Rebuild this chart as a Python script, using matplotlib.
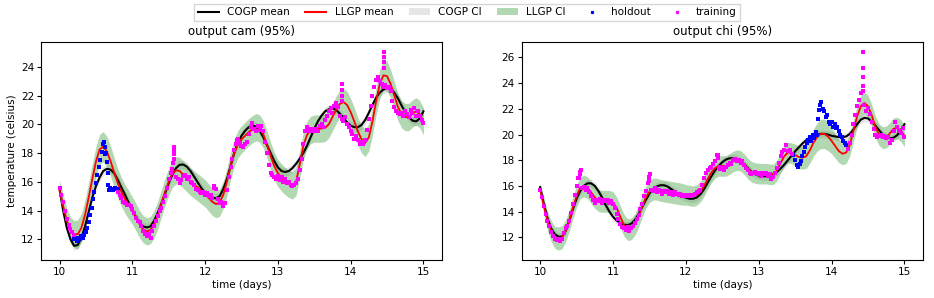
import numpy as np
import matplotlib
matplotlib.use("Agg")
import matplotlib.pyplot as plt

# model means / CI half widths, sampled every 0.05 day from 10 to 15
cogp_cam = [15.5, 14.0, 12.8, 12.0, 11.55, 11.6, 12.1, 12.9, 13.9, 14.9,
            15.7, 16.3, 16.75, 16.9, 16.85, 16.6, 16.15, 15.6, 15.1, 14.55,
            14.0, 13.55, 13.15, 12.9, 12.82, 12.9, 13.3, 13.85, 14.5, 15.2,
            15.9, 16.5, 16.95, 17.18, 17.2, 17.05, 16.75, 16.35, 15.95, 15.55,
            15.25, 15.0, 14.88, 14.85, 15.0, 15.5, 16.2, 17.1, 18.0, 18.7,
            19.2, 19.55, 19.8, 19.9, 19.85, 19.55, 19.1, 18.55, 18.0, 17.45,
            17.0, 16.75, 16.68, 16.75, 16.95, 17.25, 17.6, 18.0, 18.5, 19.1,
            19.7, 20.2, 20.6, 20.9, 21.05, 21.1, 21.0, 20.75, 20.45, 20.15,
            19.9, 19.8, 19.8, 19.95, 20.3, 20.8, 21.35, 21.85, 22.2, 22.42,
            22.5, 22.45, 22.2, 21.8, 21.3, 20.85, 20.5, 20.25, 20.2, 20.4,
            20.9]
llgp_cam = [15.4, 14.3, 13.3, 12.65, 12.35, 12.35, 12.8, 13.7, 14.9, 16.2,
            17.4, 18.25, 18.45, 18.1, 17.45, 16.65, 15.9, 15.3, 14.8, 14.4,
            14.0, 13.55, 13.05, 12.7, 12.55, 12.65, 13.05, 13.7, 14.5, 15.3,
            16.0, 16.55, 16.8, 16.75, 16.5, 16.25, 16.0, 15.8, 15.6, 15.4,
            15.2, 14.9, 14.6, 14.45, 14.55, 15.1, 16.0, 17.1, 18.0, 18.6,
            18.95, 19.2, 19.45, 19.65, 19.8, 19.7, 19.3, 18.6, 17.8, 17.1,
            16.6, 16.3, 16.05, 15.85, 15.75, 16.0, 17.2, 18.5, 19.25, 19.6,
            19.7, 19.7, 19.7, 19.75, 20.0, 20.5, 21.0, 21.4, 21.55, 21.35,
            20.85, 20.2, 19.5, 18.95, 18.7, 19.1, 20.2, 21.6, 22.8, 23.4,
            23.35, 22.8, 22.0, 21.2, 20.7, 20.5, 20.5, 20.75, 20.9, 20.7,
            20.2]
llgp_cam_hw = [0.7, 0.8, 0.85, 0.9, 0.95, 1.0, 1.0, 1.05, 1.05, 1.05,
               1.05, 1.05, 1.05, 1.05, 1.05, 1.05, 1.0, 1.0, 1.0, 1.0,
               0.95, 0.95, 0.95, 0.95, 0.95, 0.95, 0.95, 0.95, 0.95, 0.95,
               0.95, 0.95, 0.95, 0.95, 0.95, 0.95, 0.95, 0.95, 0.95, 0.95,
               0.95, 0.95, 0.95, 0.95, 0.95, 0.95, 0.95, 0.95, 0.95, 0.95,
               0.95, 0.95, 0.95, 0.95, 0.95, 0.95, 0.95, 0.95, 0.95, 0.95,
               0.95, 0.95, 0.95, 0.95, 0.95, 0.95, 0.95, 0.95, 0.95, 0.95,
               0.95, 0.95, 0.95, 0.95, 0.95, 0.95, 0.95, 0.95, 0.95, 0.95,
               0.95, 0.95, 0.95, 0.95, 0.95, 0.95, 0.95, 0.95, 1.0, 1.05,
               1.05, 1.0, 0.95, 0.95, 0.95, 0.95, 0.95, 0.95, 0.95, 0.95,
               0.95]

cogp_chi = [15.9, 14.6, 13.5, 12.7, 12.25, 12.05, 12.05, 12.5, 13.3, 14.2,
            15.0, 15.6, 16.0, 16.2, 16.2, 16.0, 15.6, 15.1, 14.5, 14.0,
            13.6, 13.3, 13.1, 12.98, 12.95, 13.05, 13.35, 13.8, 14.35, 14.9,
            15.4, 15.75, 15.95, 16.05, 16.05, 15.95, 15.75, 15.55, 15.35, 15.2,
            15.08, 15.0, 15.0, 15.1, 15.35, 15.75, 16.25, 16.75, 17.2, 17.55,
            17.85, 18.05, 18.15, 18.15, 18.1, 17.95, 17.7, 17.4, 17.1, 16.9,
            16.8, 16.75, 16.75, 16.8, 16.9, 17.1, 17.35, 17.65, 18.0, 18.35,
            18.7, 19.0, 19.3, 19.55, 19.75, 19.9, 20.0, 20.05, 20.05, 20.0,
            19.9, 19.85, 19.8, 19.8, 19.85, 20.05, 20.4, 20.8, 21.15, 21.3,
            21.25, 21.0, 20.7, 20.35, 20.0, 19.8, 19.7, 19.75, 19.95, 20.35,
            20.8]
llgp_chi = [15.7, 14.5, 13.3, 12.5, 12.0, 11.9, 12.0, 12.5, 13.3, 14.3,
            15.2, 15.85, 16.0, 15.85, 15.5, 15.1, 14.85, 14.8, 14.8, 14.8,
            14.7, 14.3, 13.6, 12.95, 12.6, 12.65, 13.0, 13.6, 14.4, 15.1,
            15.55, 15.75, 15.75, 15.65, 15.6, 15.55, 15.5, 15.45, 15.4, 15.35,
            15.3, 15.25, 15.2, 15.3, 15.55, 16.0, 16.55, 17.05, 17.4, 17.55,
            17.55, 17.55, 17.7, 17.9, 18.0, 17.95, 17.7, 17.35, 17.1, 17.0,
            16.95, 16.95, 16.95, 16.9, 16.9, 17.2, 17.8, 18.3, 18.6, 18.55,
            18.4, 18.25, 18.2, 18.3, 18.75, 19.35, 19.8, 20.05, 20.05, 19.85,
            19.5, 19.1, 18.7, 18.5, 18.6, 19.2, 20.3, 21.4, 22.2, 22.45,
            22.2, 21.5, 20.6, 20.0, 19.75, 19.8, 20.1, 20.45, 20.5, 20.3,
            19.9]
llgp_chi_hw = [0.55, 0.65, 0.75, 0.8, 0.85, 0.9, 0.9, 0.85, 0.85, 0.85,
               0.85, 0.85, 0.85, 0.85, 0.85, 0.85, 0.85, 0.85, 0.85, 0.85,
               0.85, 0.85, 0.85, 0.85, 0.85, 0.85, 0.85, 0.85, 0.85, 0.85,
               0.85, 0.85, 0.85, 0.85, 0.85, 0.85, 0.85, 0.85, 0.85, 0.85,
               0.8, 0.8, 0.8, 0.8, 0.8, 0.8, 0.8, 0.8, 0.8, 0.8,
               0.8, 0.8, 0.8, 0.8, 0.8, 0.8, 0.8, 0.8, 0.8, 0.8,
               0.8, 0.8, 0.8, 0.8, 0.8, 0.8, 0.8, 0.8, 0.8, 0.8,
               0.85, 0.9, 0.9, 0.95, 1.0, 1.05, 1.1, 1.15, 1.15, 1.1,
               1.0, 0.95, 0.9, 0.85, 0.85, 0.85, 0.85, 0.85, 0.85, 0.85,
               0.85, 0.85, 0.85, 0.85, 0.85, 0.85, 0.85, 0.85, 0.85, 0.85,
               0.85]
cogp_ci_hw = 0.3

# observations (every 0.025 day inside each segment)
train_cam_a = [15.6, 15.1, 14.6, 14.0, 13.4, 13.0, 12.7, 12.5, 12.3]  # 10.0 - 10.2
train_cam_b = [15.3, 15.1, 14.9, 14.6, 14.5, 14.4, 14.4, 14.3,
               14.1, 13.8, 13.5, 13.3, 13.2, 12.9, 12.6, 12.4, 12.2, 12.4, 12.1, 12.6,
               12.9, 13.3, 13.6, 14.0, 14.2, 14.6, 15.0, 15.6, 16.2, 16.6, 16.9, 17.6,
               16.3, 16.2, 15.9, 16.1, 16.4, 16.5, 16.2, 16.3, 16.0, 15.9, 15.8, 15.5,
               15.4, 15.3, 15.2, 15.3, 15.1, 15.2, 15.0, 15.1, 14.9, 15.6, 15.5, 14.8,
               14.5, 14.6, 14.3, 14.5, 15.4, 16.3, 17.0, 17.6, 18.2, 18.6, 19.0, 18.7,
               18.5, 18.4, 18.6, 18.8, 19.3, 19.8, 20.1, 19.7, 19.5, 19.9, 19.6, 19.9,
               19.5, 18.8, 18.0, 17.2, 16.6, 16.5, 16.3, 16.2, 16.4, 16.1, 16.3, 16.0,
               16.2, 15.9, 16.0, 15.8, 15.7, 15.8, 15.9, 16.2, 16.8, 17.6, 18.6, 19.5,
               19.8, 19.5, 19.7, 19.6, 19.5, 19.7, 19.5, 19.9, 20.0, 19.8, 20.3, 20.6,
               20.9, 21.1, 20.8, 21.3, 21.5, 21.2, 20.6, 20.4, 20.2, 20.5, 20.0, 19.8,
               19.5, 19.3, 19.0, 19.2, 18.9, 18.6, 18.8, 18.6, 18.9, 19.6, 20.4, 21.3,
               22.0, 22.6, 23.1, 23.3, 23.0, 22.8, 22.6, 22.7, 22.5, 22.6, 22.3, 21.6,
               21.2, 20.9, 20.8, 20.7, 20.8, 20.6, 20.9, 20.7, 20.5, 21.0, 20.8, 21.1,
               20.6, 20.9, 20.6, 20.3, 20.1]  # 10.8 - 15.0
spike_cam_t = [11.565, 11.57, 11.57, 11.575, 12.125, 12.44, 13.875, 13.875,
               13.88, 13.88, 14.46, 14.46, 14.46, 14.465]
spike_cam_v = [17.3, 17.9, 18.2, 18.4, 15.7, 18.9, 21.6, 22.0,
               22.4, 22.8, 23.9, 24.3, 24.7, 25.0]
hold_cam_t = [10.20, 10.22, 10.24, 10.26, 10.28, 10.30, 10.32, 10.34, 10.36, 10.38,
              10.40, 10.42, 10.44, 10.46, 10.48, 10.50, 10.52, 10.54, 10.56, 10.58,
              10.60, 10.61, 10.62, 10.63, 10.64, 10.65, 10.66, 10.67, 10.68, 10.70,
              10.72, 10.74, 10.76, 10.78, 10.80]
hold_cam_v = [12.0, 12.1, 11.9, 12.1, 12.0, 12.2, 12.1, 12.3, 12.5, 12.8,
              13.2, 13.7, 14.2, 14.8, 15.3, 15.9, 16.5, 17.0, 17.5, 18.1,
              18.6, 18.8, 18.4, 17.9, 18.0, 17.4, 16.6, 15.8, 15.4, 15.6,
              15.5, 15.4, 15.6, 15.5, 15.5]

train_chi_a = [15.7, 15.1, 14.4, 13.8, 13.3, 12.9, 12.4, 12.1, 11.9, 11.8,
               11.9, 11.7, 11.9, 12.3, 12.7, 12.9, 13.3, 13.9, 14.6, 15.3,
               16.0, 16.6, 17.1, 15.8, 15.9, 15.7, 15.8, 15.5, 15.2, 14.9,
               14.7, 14.9, 14.8, 15.0, 14.7, 14.9, 14.8, 14.9, 14.7, 14.8,
               14.6, 14.3, 13.8, 13.4, 13.0, 12.8, 12.7, 12.6, 12.8, 12.5,
               12.7, 12.9, 13.1, 13.4, 13.7, 14.2, 14.6, 15.2, 15.6, 16.2,
               16.7, 15.7, 15.6, 15.8, 15.5, 15.7, 15.6, 15.4, 15.6, 15.5,
               15.6, 15.4, 15.5, 15.3, 15.5, 15.4, 15.3, 15.4, 15.2, 15.3,
               15.2, 15.3, 15.2, 15.3, 15.3, 15.4, 15.5, 15.6, 15.7, 16.1,
               16.6, 17.0, 17.2, 17.4, 17.5, 17.7, 17.9, 18.4, 17.5, 17.3,
               17.4, 17.2, 17.5, 17.6, 17.8, 17.7, 18.0, 18.1, 17.9, 18.0,
               17.8, 17.9, 17.6, 17.4, 17.2, 17.0, 16.9, 17.0, 17.1, 16.9,
               17.0, 16.8, 17.0, 16.9, 17.0, 16.8, 16.9, 16.5, 16.7, 17.0,
               17.4, 17.8, 18.3, 18.6, 18.8, 19.2, 18.7, 18.8, 18.5]  # 10.0 - 13.45
train_chi_b = [18.9, 19.3, 20.0, 20.8, 21.5, 22.2, 22.7, 23.2, 23.4, 22.3,
               21.8, 22.1, 21.6, 21.0, 20.4, 20.0, 19.8, 19.9, 20.0, 19.8,
               19.9, 19.7, 19.8, 19.3, 19.6, 20.3, 21.0, 20.6, 20.3, 20.1,
               20.5, 19.8]  # 14.225 - 15.0
spike_chi_t = [10.54, 10.55, 10.56, 11.5, 11.51, 12.44, 12.44, 14.43, 14.43, 14.43, 14.43]
spike_chi_v = [16.6, 16.9, 17.2, 16.4, 16.9, 18.2, 18.4, 23.8, 24.5, 25.2, 26.4]
hold_chi_t = [13.475, 13.50, 13.52, 13.54, 13.56, 13.58, 13.60, 13.62, 13.64, 13.66,
              13.68, 13.70, 13.72, 13.74, 13.76, 13.78, 13.80, 13.81, 13.82, 13.84,
              13.86, 13.88, 13.90, 13.92, 13.94, 13.96, 13.98, 14.00, 14.02, 14.04,
              14.06, 14.08, 14.10, 14.12, 14.14, 14.16, 14.18, 14.20]
hold_chi_v = [18.4, 18.0, 17.6, 17.5, 17.7, 17.9, 18.3, 18.6, 19.0, 19.3,
              19.6, 19.8, 19.5, 20.0, 19.7, 20.2, 20.0, 21.2, 21.9, 22.3,
              22.5, 22.0, 21.8, 21.4, 21.5, 21.0, 20.8, 21.0, 20.6, 20.8,
              20.5, 20.6, 20.3, 20.0, 19.8, 19.5, 19.3, 19.2]


def draw_panel(ax, cogp, llgp, llgp_hw, train_segs, spike_t, spike_v, hold_t, hold_v):
    t = np.linspace(10, 15, len(cogp))
    cogp = np.array(cogp)
    llgp = np.array(llgp)
    hw = np.array(llgp_hw)

    ax.fill_between(t, cogp - cogp_ci_hw, cogp + cogp_ci_hw, color='0.9', lw=0)
    ax.fill_between(t, llgp - hw, llgp + hw, color='g', alpha=0.3, lw=0)
    ax.plot(t, cogp, 'k-', lw=1.5)
    ax.plot(t, llgp, 'r-', lw=1.3)

    ax.scatter(hold_t, hold_v, s=5.5, c='b', marker='s', lw=0, zorder=3)
    for start, end, vals in train_segs:
        ts = np.linspace(start, end, len(vals))
        ax.scatter(ts, vals, s=5.5, c='magenta', marker='s', lw=0, zorder=4)
    ax.scatter(spike_t, spike_v, s=5.5, c='magenta', marker='s', lw=0, zorder=4)

    ax.set_xlim(9.745, 15.255)
    ax.set_xticks([10, 11, 12, 13, 14, 15])
    ax.set_xlabel('time (days)', fontsize=7.5, labelpad=2)
    ax.tick_params(labelsize=7.5, length=3, pad=2)


def main():
    fig = plt.figure(figsize=(9.34, 2.98), dpi=100)
    ax1 = fig.add_axes([0.0439, 0.1275, 0.4293, 0.7315])
    ax2 = fig.add_axes([0.5584, 0.1275, 0.4299, 0.7315])

    draw_panel(ax1, cogp_cam, llgp_cam, llgp_cam_hw,
               [(10.0, 10.2, train_cam_a), (10.8, 15.0, train_cam_b)],
               spike_cam_t, spike_cam_v, hold_cam_t, hold_cam_v)
    ax1.set_ylim(10.56, 25.72)
    ax1.set_yticks([12, 14, 16, 18, 20, 22, 24])
    ax1.set_ylabel('temperature (celsius)', fontsize=7.5, labelpad=3)
    ax1.set_title('output cam (95%)', fontsize=8.5, pad=5)

    draw_panel(ax2, cogp_chi, llgp_chi, llgp_chi_hw,
               [(10.0, 13.45, train_chi_a), (14.225, 15.0, train_chi_b)],
               spike_chi_t, spike_chi_v, hold_chi_t, hold_chi_v)
    ax2.set_ylim(10.23, 27.2)
    ax2.set_yticks([12, 14, 16, 18, 20, 22, 24, 26])
    ax2.set_title('output chi (95%)', fontsize=8.5, pad=5)

    handles = [
        plt.Line2D([], [], color='k', lw=1.5),
        plt.Line2D([], [], color='r', lw=1.5),
        plt.Rectangle((0, 0), 1, 1, color='0.9', lw=0),
        plt.Rectangle((0, 0), 1, 1, color='g', alpha=0.3, lw=0),
        plt.Line2D([], [], color='b', marker='s', ms=1.3, lw=0),
        plt.Line2D([], [], color='magenta', marker='s', ms=1.3, lw=0),
    ]
    labels = ['COGP mean', 'LLGP mean', 'COGP CI', 'LLGP CI', 'holdout', 'training']
    fig.legend(handles, labels, loc='upper center', bbox_to_anchor=(0.5, 1.005),
               ncol=6, fontsize=7.5, frameon=True, fancybox=False,
               handlelength=2.0, columnspacing=1.5, borderpad=0.35)

    fig.savefig('out.png', dpi=100)


if __name__ == "__main__":
    main()
